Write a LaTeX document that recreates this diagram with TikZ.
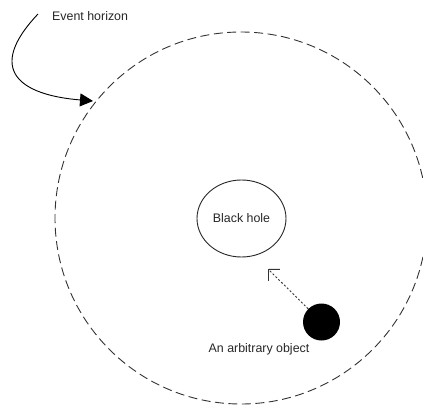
\documentclass[tikz,border=0pt]{standalone}
\usepackage{fontspec}
\setmainfont{Liberation Sans}
\usetikzlibrary{arrows.meta,shapes.geometric}
\begin{document}
\begin{tikzpicture}[x=1pt,y=-1pt,
  lbl/.style={inner sep=0pt, font=\fontsize{12.4}{14}\selectfont, text=black!85},
  horizon/.style={circle, draw=black!80, line width=0.9pt, dash pattern=on 9pt off 4.5pt, minimum size=372pt, inner sep=0pt},
  hole/.style={ellipse, draw=black!85, line width=0.9pt, minimum width=89pt, minimum height=77pt, inner sep=0pt},
  objdot/.style={circle, fill=black, minimum size=37pt, inner sep=0pt},
  pull/.style={draw=black!80, line width=0.9pt, dash pattern=on 2pt off 2pt, -{Straight Barb[length=8pt,width=16pt,line width=0.9pt]}},
  pointer/.style={draw=black, line width=0.9pt, -{Triangle[length=13pt,width=13pt]}}
]
\useasboundingbox (0,0) rectangle (423,407);
\node[horizon] (eh) at (241,218) {};
\node[hole] (bh) at (241.5,218.5) {};
\node[lbl] (bhlabel) at (241.5,218.5) {Black hole};
\node[objdot] (obj) at (321.5,322) {};
\node[lbl] (objlabel) at (259,349) {An arbitrary object};
\node[lbl, anchor=west] (ehlabel) at (52,16) {Event horizon};
\coordinate (ehstart) at (38,14);
\coordinate (ehtip) at (93,101);
\coordinate (pulltip) at (268,269);
\draw[pointer] (ehstart) .. controls (-15,70) and (20,95) .. (ehtip);
\draw[pull] (obj) -- (pulltip);
\end{tikzpicture}
\end{document}
